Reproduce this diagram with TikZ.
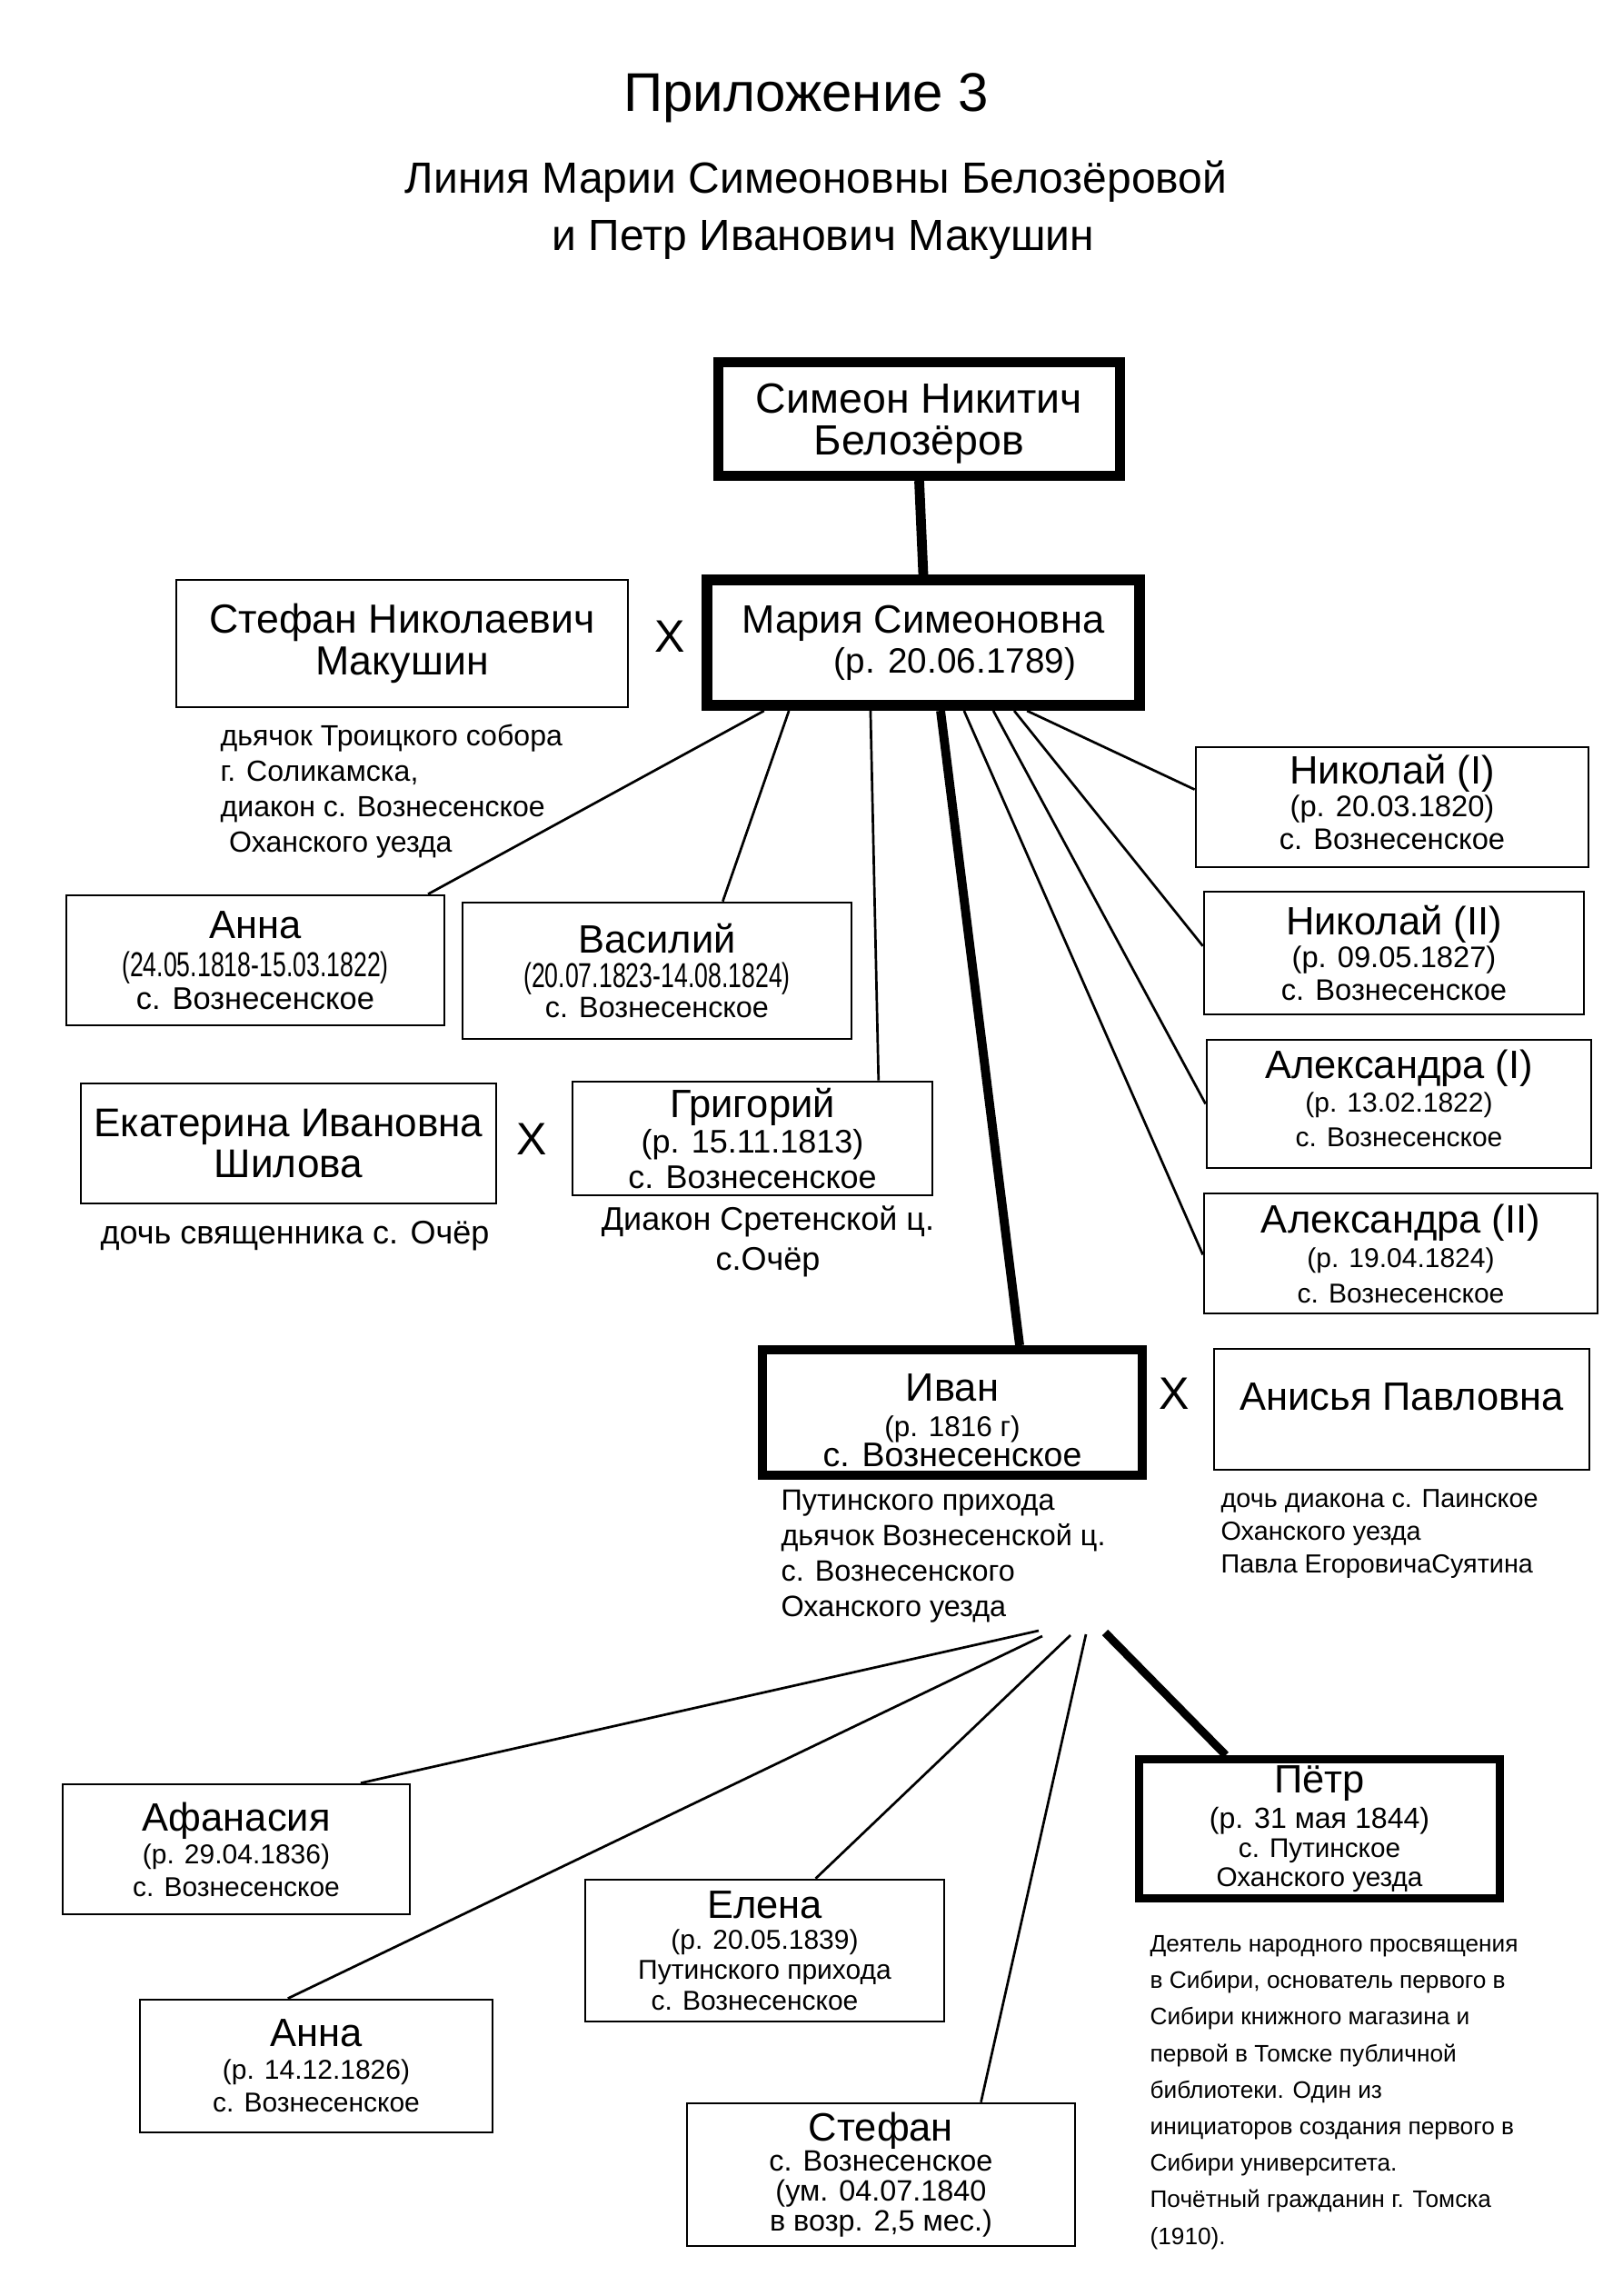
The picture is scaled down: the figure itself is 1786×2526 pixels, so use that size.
\documentclass[tikz,border=0pt]{standalone}
\usepackage{fontspec}
\setmainfont{Liberation Sans}
\newfontfamily\narrowfont[FakeStretch=0.7]{Liberation Sans}
\usetikzlibrary{calc}

\newlength{\pu}
\setlength{\pu}{0.33337pt}
\newcommand{\who}{\fontsize{14.5pt}{15pt}\selectfont}

\begin{document}
\begin{tikzpicture}[x=0.33337pt, y=-0.33337pt,
  person/.style 2 args={draw, line width=0.9pt, minimum width=#1\pu, minimum height=#2\pu,
    align=center, inner sep=0pt, font=\fontsize{10.5pt}{12pt}\selectfont},
  heir/.style={line width=3.3pt},
  link/.style={line width=0.9pt},
  note/.style={align=left, anchor=base west, inner sep=0pt, font=\fontsize{10.7pt}{12.9pt}\selectfont},
  wed/.style={anchor=base, font=\fontsize{16.7pt}{17pt}\selectfont}]
\useasboundingbox (0,0) rectangle (1786,2526);

% title
\node[anchor=base, font=\fontsize{20pt}{20pt}\selectfont] (title) at (887,122) {Приложение 3};
\node[anchor=base, font=\fontsize{16pt}{16pt}\selectfont] (line1) at (898,212) {Линия Марии Симеоновны Белозёровой};
\node[anchor=base, font=\fontsize{16pt}{16pt}\selectfont] (line2) at (906,275) {и Петр Иванович Макушин};

% parents
\node[person={442}{125}, line width=3.7pt, font=\fontsize{15.5pt}{15.3pt}\selectfont] (simeon) at (1011.5,461) {\rule{0pt}{14pt}Симеон Никитич\\Белозёров};
\node[person={476}{138}, line width=4pt, font=\fontsize{12.9pt}{14.7pt}\selectfont] (maria) at (1016,707) {{\who Мария Симеоновна}\\\hspace*{70\pu}(р. 20.06.1789)};
\node[person={497}{140}, font=\fontsize{14.9pt}{15.3pt}\selectfont] (stefan) at (442.5,708) {Стефан Николаевич\\Макушин};
\node[wed] (x1) at (737,717) {X};
% base of a note = baseline of its last line
\node[note] (stefannote) at (242,937) {дьячок Троицкого собора\\г. Соликамска,\\диакон с. Вознесенское\\\hspace*{0.3em}Оханского уезда};

% children of Maria
\node[person={416}{143}, font=\fontsize{11.5pt}{12pt}\selectfont] (anna) at (281,1056.5) {{\who Анна}\\[2pt]{\narrowfont\fontsize{12.7pt}{12pt}\selectfont (24.05.1818-15.03.1822)}\\с. Вознесенское};
\node[person={428}{150}, font=\fontsize{10.8pt}{11pt}\selectfont] (vasily) at (723,1068) {{\who Василий}\\[2pt]{\narrowfont\fontsize{12.7pt}{12pt}\selectfont (20.07.1823-14.08.1824)}\\с. Вознесенское};
\node[person={457}{132}, font=\fontsize{14.7pt}{15pt}\selectfont] (ekaterina) at (317.5,1258) {Екатерина Ивановна\\Шилова};
\node[wed] (x2) at (585,1270) {X};
\node[person={396}{125}, font=\fontsize{12pt}{13pt}\selectfont] (grigory) at (828,1252.5) {{\who Григорий}\\(р. 15.11.1813)\\с. Вознесенское};
\node[note, anchor=base, align=center, font=\fontsize{12pt}{12pt}\selectfont] (ekatnote) at (324.5,1368) {дочь священника с. Очёр};
\node[note, anchor=base, align=center, font=\fontsize{12pt}{14.5pt}\selectfont] (grignote) at (845,1397) {Диакон Сретенской ц.\\с.Очёр};

\node[person={432}{132}, font=\fontsize{10.9pt}{12pt}\selectfont] (nikolai1) at (1532,888) {{\who Николай (I)}\\(р. 20.03.1820)\\с. Вознесенское\rule[-4pt]{0pt}{0pt}};
\node[person={418}{135}, font=\fontsize{10.9pt}{12pt}\selectfont] (nikolai2) at (1534,1048.5) {{\who Николай (II)}\\(р. 09.05.1827)\\с. Вознесенское};
\node[person={423}{141}, font=\fontsize{10pt}{12.5pt}\selectfont] (alexandra1) at (1539.5,1214.5) {{\who Александра (I)}\\(р. 13.02.1822)\\с. Вознесенское\rule[-4.5pt]{0pt}{0pt}};
\node[person={433}{132}, font=\fontsize{10pt}{12.8pt}\selectfont] (alexandra2) at (1541.5,1379) {{\who Александра (II)}\\(р. 19.04.1824)\\с. Вознесенское};

% Ivan and his wife
\node[person={418}{138}, line width=3.3pt, font=\fontsize{12.5pt}{11pt}\selectfont] (ivan) at (1048,1554) {{\who\rule{0pt}{15.7pt}Иван}\\[2pt]{\fontsize{10.5pt}{11pt}\selectfont (р. 1816 г)}\\с. Вознесенское};
\node[wed] (x3) at (1292,1550) {X};
\node[person={413}{133}, font=\who, text depth=28\pu] (anisya) at (1542.5,1550.5) {Анисья Павловна};
\node[note, font=\fontsize{10.8pt}{12.9pt}\selectfont] (ivannote) at (859,1778) {Путинского прихода\\дьячок Вознесенской ц.\\с. Вознесенского\\Оханского уезда};
\node[note, font=\fontsize{9.6pt}{12pt}\selectfont] (anisyanote) at (1343,1730) {дочь диакона с. Паинское\\Оханского уезда\\Павла ЕгоровичаСуятина};

% children of Ivan
\node[person={382}{143}, font=\fontsize{10pt}{12pt}\selectfont] (afanasia) at (260,2034.5) {{\who Афанасия}\\(р. 29.04.1836)\\с. Вознесенское};
\node[person={388}{146}, font=\fontsize{10pt}{12pt}\selectfont] (anna2) at (348,2273) {{\who Анна}\\(р. 14.12.1826)\\с. Вознесенское};
\node[person={395}{156}, font=\fontsize{10pt}{11.2pt}\selectfont] (elena) at (841.5,2146) {{\who Елена}\\(р. 20.05.1839)\\Путинского прихода\\с. Вознесенское\hspace*{22\pu}};
\node[person={427}{157}, font=\fontsize{10.8pt}{11pt}\selectfont] (stefan2) at (969.5,2392.5) {{\who Стефан}\\с. Вознесенское\\(ум. 04.07.1840\\в возр. 2,5 мес.)};
\node[person={397}{153}, line width=3pt, font=\fontsize{9.9pt}{10.6pt}\selectfont] (petr) at (1452,2012) {{\who Пётр}\\[1.3pt]{\fontsize{10.7pt}{11pt}\selectfont (р. 31 мая 1844)}\\с. Путинское\\Оханского уезда};
\node[note, font=\fontsize{8.75pt}{13.4pt}\selectfont] (petrnote) at (1265,2469) {Деятель народного просвящения\\в Сибири, основатель первого в\\Сибири книжного магазина и\\первой в Томске публичной\\библиотеки. Один из\\инициаторов создания первого в\\Сибири университета.\\Почётный гражданин г. Томска\\(1910).};

% lines
\draw[heir, line width=3.6pt] (simeon.south) -- (maria.north);
\draw[link] ($(maria.south west)!0.141!(maria.south east)$) -- ($(anna.north west)!0.954!(anna.north east)$);
\draw[link] ($(maria.south west)!0.197!(maria.south east)$) -- ($(vasily.north west)!0.668!(vasily.north east)$);
\draw[link] ($(maria.south west)!0.381!(maria.south east)$) -- ($(grigory.north west)!0.848!(grigory.north east)$);
\draw[heir] ($(maria.south west)!0.539!(maria.south east)$) -- ($(ivan.north west)!0.673!(ivan.north east)$);
\draw[link] ($(maria.south west)!0.592!(maria.south east)$) -- ($(alexandra2.north west)!0.51!(alexandra2.south west)$);
\draw[link] ($(maria.south west)!0.658!(maria.south east)$) -- ($(alexandra1.north west)!0.5!(alexandra1.south west)$);
\draw[link] ($(maria.south west)!0.705!(maria.south east)$) -- ($(nikolai2.north west)!0.444!(nikolai2.south west)$);
\draw[link] ($(maria.south west)!0.734!(maria.south east)$) -- ($(nikolai1.north west)!0.356!(nikolai1.south west)$);

\coordinate (fanA) at (1143,1794);
\coordinate (fanB) at (1147,1800);
\coordinate (fanC) at (1178,1799);
\coordinate (fanD) at (1195,1798);
\coordinate (fanE) at (1216,1796);
\draw[link] (fanA) -- ($(afanasia.north west)!0.856!(afanasia.north east)$);
\draw[link] (fanB) -- ($(anna2.north west)!0.42!(anna2.north east)$);
\draw[link] (fanC) -- ($(elena.north west)!0.641!(elena.north east)$);
\draw[link] (fanD) -- ($(stefan2.north west)!0.756!(stefan2.north east)$);
\draw[heir, line width=3pt] (fanE) -- ($(petr.north west)!0.246!(petr.north east)$);
\end{tikzpicture}
\end{document}
